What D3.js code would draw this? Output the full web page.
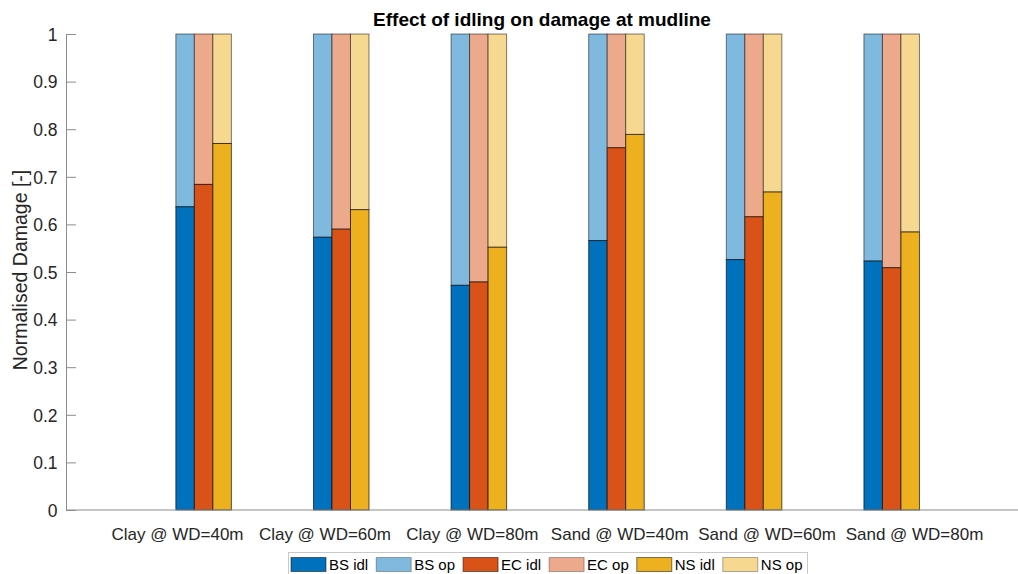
<!DOCTYPE html>
<html>
<head>
<meta charset="utf-8">
<script src="https://cdn.jsdelivr.net/npm/d3@7"></script>
<style>
  html, body { margin: 0; padding: 0; background: #fff; }
  svg { display: block; font-family: "Liberation Sans", Arial, Helvetica, sans-serif; }
</style>
</head>
<body>
<svg id="chart" width="1018" height="574"></svg>
<script>
// Site / water-depth cases
const categories = ["Clay @ WD=40m", "Clay @ WD=60m", "Clay @ WD=80m",
                    "Sand @ WD=40m", "Sand @ WD=60m", "Sand @ WD=80m"];

// Normalised damage share from idling, per design standard
const bsIdl = [0.637, 0.573, 0.472, 0.566, 0.526, 0.523];
const ecIdl = [0.684, 0.590, 0.479, 0.761, 0.616, 0.509];
const nsIdl = [0.770, 0.631, 0.552, 0.789, 0.668, 0.584];

// Operational share completes each bar to 1
const bsOp = bsIdl.map(v => 1 - v);
const ecOp = ecIdl.map(v => 1 - v);
const nsOp = nsIdl.map(v => 1 - v);

const legendLabels = ["BS idl", "BS op", "EC idl", "EC op", "NS idl", "NS op"];

const yTicks = [0, 0.1, 0.2, 0.3, 0.4, 0.5, 0.6, 0.7, 0.8, 0.9, 1];
const yTickLabels = ["0", "0.1", "0.2", "0.3", "0.4", "0.5", "0.6", "0.7", "0.8", "0.9", "1"];

const idlColors = ["#0072BD", "#D95319", "#EDB120"];
const opColors  = ["#80B9DE", "#ECA98C", "#F6D890"];
const textColor = "#262626";
const axisColor = "#8c8c8c";

const series = [
  { idl: bsIdl, op: bsOp },
  { idl: ecIdl, op: ecOp },
  { idl: nsIdl, op: nsOp }
];

const svg = d3.select("#chart");

const plotLeft = 66, plotBottom = 510, plotTop = 34, axisRight = 1018;

// Bars sit at integer positions 1..6 on a numeric axis
const x = d3.scaleLinear().domain([0, 7]).range([plotLeft, 1029.3]);
const y = d3.scaleLinear().domain([0, 1]).range([plotBottom, plotTop]);
// Category labels along the bottom
const xLab = d3.scalePoint().domain(categories).range([177, 914]);

const barW = 0.1345; // width of each bar in x-units

// Bars
const gBars = svg.append("g");
series.forEach((s, k) => {
  const g = gBars.append("g");
  categories.forEach((c, i) => {
    const cx = x(i + 1);
    const bw = x(barW) - x(0);
    const bx = cx + (k - 1.5) * bw;
    const yi = s.idl[i];
    const yo = s.op[i];
    g.append("rect")
      .attr("x", bx).attr("width", bw)
      .attr("y", y(yi + yo)).attr("height", y(yi) - y(yi + yo))
      .attr("fill", opColors[k])
      .attr("stroke", "#000").attr("stroke-opacity", 0.5).attr("stroke-width", 1);
    g.append("rect")
      .attr("x", bx).attr("width", bw)
      .attr("y", y(yi)).attr("height", y(0) - y(yi))
      .attr("fill", idlColors[k])
      .attr("stroke", "#000").attr("stroke-opacity", 0.65).attr("stroke-width", 1);
  });
});

// Y axis
const yAxis = d3.axisLeft(y)
  .tickValues(yTicks)
  .tickFormat((d, i) => yTickLabels[i])
  .tickSize(-10)
  .tickPadding(8.5);
const gy = svg.append("g").attr("transform", `translate(${plotLeft},0)`).call(yAxis);
gy.select(".domain").attr("stroke", axisColor);
gy.selectAll(".tick line").attr("stroke", axisColor);
gy.selectAll(".tick text")
  .attr("fill", textColor)
  .style("font-size", "17.5px")
  .attr("dy", "0.36em");

// X axis (line + category labels)
svg.append("line")
  .attr("x1", plotLeft).attr("x2", axisRight)
  .attr("y1", plotBottom).attr("y2", plotBottom)
  .attr("stroke", axisColor);
const xAxis = d3.axisBottom(xLab).tickSize(0);
const gx = svg.append("g").attr("transform", `translate(0,${plotBottom})`).call(xAxis);
gx.select(".domain").remove();
gx.selectAll(".tick text")
  .attr("fill", textColor)
  .attr("y", 30).attr("dy", null)
  .style("font-size", "17px");

// Title
svg.append("text")
  .attr("x", (plotLeft + axisRight) / 2).attr("y", 26)
  .attr("text-anchor", "middle")
  .attr("fill", "#000")
  .style("font-size", "19px").style("font-weight", "bold")
  .text("Effect of idling on damage at mudline");

// Y label
svg.append("text")
  .attr("transform", `translate(27,270) rotate(-90)`)
  .attr("text-anchor", "middle")
  .attr("fill", textColor)
  .style("font-size", "19.5px")
  .text("Normalised Damage [-]");

// Legend
const legendColors = [idlColors[0], opColors[0], idlColors[1], opColors[1], idlColors[2], opColors[2]];
const gLeg = svg.append("g");
const legBox = gLeg.append("rect")
  .attr("fill", "#fff").attr("stroke", "#c8c8c8").attr("stroke-width", 1);
let lx = 291;
legendLabels.forEach((lab, i) => {
  gLeg.append("rect")
    .attr("x", lx).attr("y", 557.5).attr("width", 35).attr("height", 14)
    .attr("fill", legendColors[i])
    .attr("stroke", "#000").attr("stroke-opacity", i % 2 ? 0.3 : 0.5);
  const t = gLeg.append("text")
    .attr("x", lx + 38).attr("y", 570)
    .attr("fill", "#000")
    .style("font-size", "15px")
    .text(lab);
  lx += 38 + t.node().getComputedTextLength() + 8;
});
legBox.attr("x", 288.5).attr("y", 552.5).attr("width", lx - 8 + 5 - 288.5).attr("height", 26);
</script>
</body>
</html>
